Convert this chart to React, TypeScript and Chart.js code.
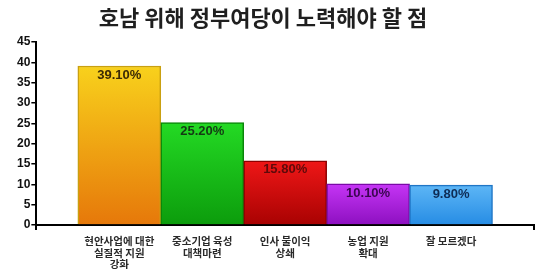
import React, { useEffect, useRef } from "react";
import { Chart, registerables } from "chart.js";

Chart.register(...registerables);

const TITLE = "호남 위해 정부여당이 노력해야 할 점";
const categories: (string | string[])[] = [
  "",
  ["현안사업에 대한", "실질적 지원", "강화"],
  ["중소기업 육성", "대책마련"],
  ["인사 불이익", "상쇄"],
  ["농업 지원", "확대"],
  ["잘 모르겠다"],
  "",
];
const values: (number | null)[] = [null, 39.1, 25.2, 15.8, 10.1, 9.8, null];
const valueLabels = ["", "39.10%", "25.20%", "15.80%", "10.10%", "9.80%", ""];
const yTicks = [0, 5, 10, 15, 20, 25, 30, 35, 40, 45];

const topColors = ["", "#F8D11C", "#24DA24", "#EF1717", "#C535F5", "#5DB6F6", ""];
const bottomColors = ["", "#E6780A", "#0C9C0C", "#A80202", "#8D10C0", "#268CE4", ""];
const borderColors = ["", "#C9A010", "#0A860A", "#8E0000", "#7A0AA6", "#1F76C6", ""];
const labelColors = ["", "#3A2A05", "#143A14", "#5E0A0A", "#3A0650", "#0E2C55", ""];

export default function App() {
  const ref = useRef<HTMLCanvasElement | null>(null);
  useEffect(() => {
    document.body.style.margin = "0";
    const canvas = ref.current!;
    const titlePlugin = {
      id: "customTitle",
      afterDraw(chart: any) {
        const ctx = chart.ctx;
        ctx.save();
        ctx.font = "bold 22px 'Noto Sans CJK KR'";
        ctx.fillStyle = "#1f1f1f";
        ctx.textAlign = "center";
        ctx.textBaseline = "middle";
        ctx.fillText(TITLE, 263, 18);
        ctx.restore();
      },
    };
    const labelPlugin = {
      id: "valueLabels",
      afterDatasetsDraw(chart: any) {
        const ctx = chart.ctx;
        const meta = chart.getDatasetMeta(0);
        ctx.save();
        ctx.font = "bold 13px 'Liberation Sans', Arial";
        ctx.textAlign = "center";
        ctx.textBaseline = "middle";
        meta.data.forEach((el: any, i: number) => {
          if (values[i] == null) return;
          ctx.fillStyle = labelColors[i];
          ctx.fillText(valueLabels[i], el.x, el.y + 9);
        });
        ctx.restore();
      },
    };
    const chart = new Chart(canvas, {
      type: "bar",
      data: {
        labels: categories,
        datasets: [
          {
            data: values,
            backgroundColor: (c: any) => {
              const i = c.dataIndex;
              const chartObj = c.chart;
              const ys = chartObj.scales.y;
              if (!ys || values[i] == null) return topColors[i] || "#000";
              const top = ys.getPixelForValue(values[i] as number);
              const bot = ys.getPixelForValue(0);
              if (!isFinite(top) || !isFinite(bot)) return topColors[i];
              const g = chartObj.ctx.createLinearGradient(0, top, 0, bot);
              g.addColorStop(0, topColors[i]);
              g.addColorStop(1, bottomColors[i]);
              return g;
            },
            borderColor: borderColors,
            borderWidth: 1.5,
            barPercentage: 1,
            categoryPercentage: 1,
          },
        ],
      },
      options: {
        animation: false,
        responsive: false,
        layout: { padding: { top: 42, right: 16, left: 16, bottom: 0 } },
        plugins: {
          legend: { display: false },
          title: { display: false },
          tooltip: { enabled: false },
        },
        scales: {
          x: {
            offset: false,
            min: 0,
            max: 6,
            afterFit: (s: any) => {
              s.height = 53;
            },
            grid: {
              offset: false,
              drawOnChartArea: false,
              tickLength: 5,
              color: (c: any) => (c.index === 0 || c.index === 6 ? "#000" : "rgba(0,0,0,0)"),
              lineWidth: 2,
            },
            border: { color: "#000", width: 2 },
            ticks: {
              autoSkip: false,
              maxRotation: 0,
              padding: 6,
              color: "#2a2a2a",
              font: { family: "'Noto Sans CJK KR'", size: 10.5, weight: "bold", lineHeight: 1.05 },
            },
          },
          y: {
            min: 0,
            max: 45,
            afterBuildTicks: (s: any) => {
              s.ticks = yTicks.map((v) => ({ value: v }));
            },
            grid: {
              drawOnChartArea: false,
              tickLength: 5,
              color: "#000",
              lineWidth: 1.5,
            },
            border: { color: "#000", width: 2 },
            ticks: {
              padding: 1,
              color: "#111",
              font: { family: "'Liberation Sans', Arial", size: 12, weight: "bold" },
            },
          },
        },
      },
      plugins: [titlePlugin, labelPlugin],
    } as any);
    return () => chart.destroy();
  }, []);
  return (
    <div style={{ width: 550, height: 278, background: "#fff" }}>
      <canvas ref={ref} width={550} height={278} />
    </div>
  );
}
